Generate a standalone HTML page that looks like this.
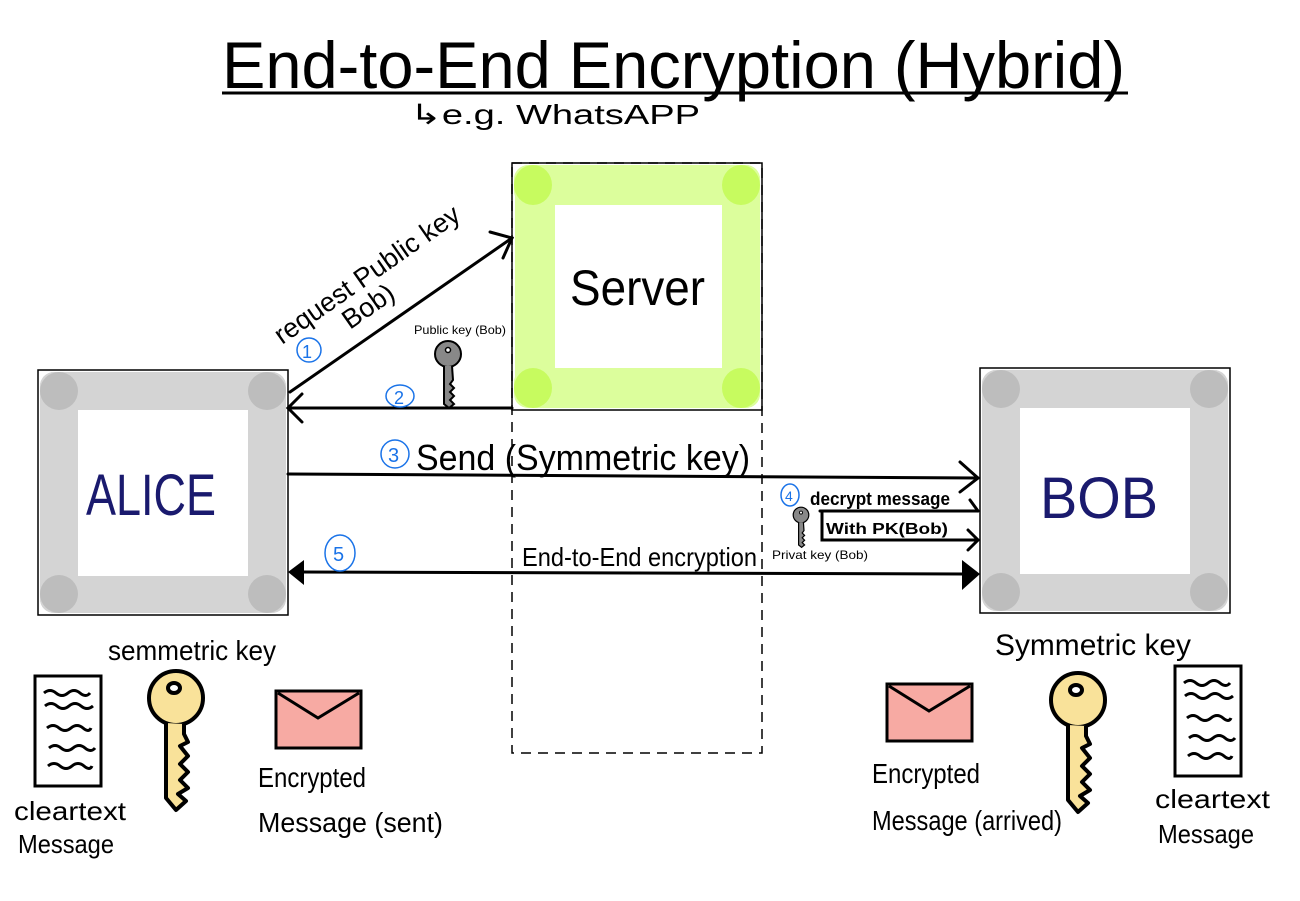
<!DOCTYPE html>
<html><head><meta charset="utf-8"><style>
html,body{margin:0;padding:0;background:#fff;}
svg{display:block;font-family:"Liberation Sans",sans-serif;}
</style></head><body>
<svg width="1300" height="901" viewBox="0 0 1300 901" xmlns="http://www.w3.org/2000/svg">
<defs>
<g id="key">
  <circle cx="0" cy="0" r="27" fill="#f9e29a" stroke="#000" stroke-width="4"/>
  <ellipse cx="-2" cy="-10" rx="6" ry="5" fill="#fff" stroke="#000" stroke-width="4"/>
  <path d="M-10,25 L-10,100 L0,112 L10,103 L2,96 L12,90 L4,82 L12,74 L4,66 L12,58 L4,48 L12,44 L8,36 L8,26" fill="#f9e29a" stroke="#000" stroke-width="4" stroke-linejoin="round"/>
</g>
<g id="doc">
  <rect x="0" y="0" width="66" height="110" fill="#fff" stroke="#000" stroke-width="3"/>
  <path d="M9,17 q6,-5 12,0 t12,0 t12,0 t10,0 M10,30 q6,-5 12,0 t12,0 t12,0 t12,0 M12,52 q6,-5 12,0 t12,0 t12,0 t8,0 M14,72 q6,-5 12,0 t12,0 t12,0 t10,0 M13,90 q6,-5 12,0 t12,0 t12,0 t8,0" fill="none" stroke="#000" stroke-width="3"/>
</g>
<g id="env">
  <rect x="0" y="0" width="85" height="57" fill="#f7aaa3" stroke="#000" stroke-width="3"/>
  <path d="M2,2 L42,27 L83,2" fill="none" stroke="#000" stroke-width="3"/>
</g>
<g id="gkey">
  <circle cx="0" cy="0" r="13" fill="#888" stroke="#000" stroke-width="2"/>
  <circle cx="0" cy="-4" r="2.5" fill="#fff" stroke="#000" stroke-width="1.5"/>
  <path d="M-4,12 L-4,50 L1,54 L6,50 L2,46 L6,42 L2,38 L6,34 L2,30 L5,26 L4,12" fill="#888" stroke="#000" stroke-width="2"/>
</g>
</defs>

<text x="222" y="88" font-size="66" textLength="903" lengthAdjust="spacingAndGlyphs">End-to-End  Encryption (Hybrid)</text>
<line x1="222" y1="93" x2="1128" y2="93" stroke="#000" stroke-width="3"/>
<text x="410" y="124" font-size="28" textLength="290" lengthAdjust="spacingAndGlyphs">↳e.g. WhatsAPP</text>

<rect x="512" y="163" width="250" height="247" fill="#fff" stroke="#000" stroke-width="1.5"/>
<rect x="512" y="163" width="250" height="590" fill="none" stroke="#000" stroke-width="1.5" stroke-dasharray="10,7"/>
<g fill="#dcfe9c">
  <rect x="514" y="165" width="246" height="40" rx="14"/>
  <rect x="514" y="368" width="246" height="40" rx="14"/>
  <rect x="515" y="165" width="40" height="243" rx="14"/>
  <rect x="722" y="165" width="38" height="243" rx="14"/>
</g>
<g fill="#c7fb5f">
  <ellipse cx="533" cy="185" rx="19" ry="20"/><ellipse cx="741" cy="185" rx="19" ry="20"/>
  <ellipse cx="533" cy="388" rx="19" ry="20"/><ellipse cx="741" cy="388" rx="19" ry="20"/>
</g>
<text x="570" y="305" font-size="50" textLength="135" lengthAdjust="spacingAndGlyphs">Server</text>

<rect x="38" y="370" width="250" height="245" fill="#fff" stroke="#000" stroke-width="1.5"/>
<g fill="#d4d4d4">
  <rect x="40" y="372" width="246" height="38" rx="14"/>
  <rect x="40" y="576" width="246" height="37" rx="14"/>
  <rect x="40" y="372" width="38" height="241" rx="14"/>
  <rect x="248" y="372" width="38" height="241" rx="14"/>
</g>
<g fill="#bdbdbd">
  <ellipse cx="59" cy="391" rx="19" ry="19"/><ellipse cx="267" cy="391" rx="19" ry="19"/>
  <ellipse cx="59" cy="594" rx="19" ry="19"/><ellipse cx="267" cy="594" rx="19" ry="19"/>
</g>
<text x="86" y="515" font-size="58" fill="#1a1a6e" textLength="130" lengthAdjust="spacingAndGlyphs">ALICE</text>

<rect x="980" y="368" width="250" height="245" fill="#fff" stroke="#000" stroke-width="1.5"/>
<g fill="#d4d4d4">
  <rect x="982" y="370" width="246" height="38" rx="14"/>
  <rect x="982" y="574" width="246" height="37" rx="14"/>
  <rect x="982" y="370" width="38" height="241" rx="14"/>
  <rect x="1190" y="370" width="38" height="241" rx="14"/>
</g>
<g fill="#bdbdbd">
  <ellipse cx="1001" cy="389" rx="19" ry="19"/><ellipse cx="1209" cy="389" rx="19" ry="19"/>
  <ellipse cx="1001" cy="592" rx="19" ry="19"/><ellipse cx="1209" cy="592" rx="19" ry="19"/>
</g>
<text x="1040" y="518" font-size="58" fill="#1a1a6e" textLength="118" lengthAdjust="spacingAndGlyphs">BOB</text>

<g stroke="#000" stroke-width="3" fill="none" stroke-linecap="round">
  <line x1="290" y1="392" x2="512" y2="238"/>
  <path d="M490,232 L512,238 L503,258"/>
  <line x1="288" y1="408" x2="512" y2="408"/>
  <path d="M302,394 L288,408 L302,422"/>
  <line x1="288" y1="474" x2="978" y2="478"/>
  <path d="M960,462 L978,478 L960,492"/>
  <line x1="820" y1="511" x2="978" y2="511"/>
  <polyline points="822,511 822,540 978,540"/>
  <path d="M970,500 L978,511 M968,530 L978,540 L968,550"/>
  <line x1="300" y1="572" x2="965" y2="574"/>
</g>
<polygon points="288,572 304,560 304,585" fill="#000"/>
<polygon points="980,574 962,560 962,590" fill="#000"/>

<text font-size="27" transform="translate(282,345) rotate(-35)" textLength="220" lengthAdjust="spacingAndGlyphs">request Public key</text>
<text font-size="27" transform="translate(350,330) rotate(-35)">Bob)</text>
<circle cx="309" cy="350" r="12" fill="none" stroke="#1a73e8" stroke-width="1.5"/>
<text x="302" y="358" font-size="18" fill="#1a73e8">1</text>
<ellipse cx="400" cy="396" rx="14" ry="11" fill="none" stroke="#1a73e8" stroke-width="1.5"/>
<text x="394" y="404" font-size="18" fill="#1a73e8">2</text>
<text x="414" y="334" font-size="12" textLength="92" lengthAdjust="spacingAndGlyphs">Public key (Bob)</text>
<use href="#gkey" x="448" y="354"/>

<circle cx="395" cy="454" r="14" fill="none" stroke="#1a73e8" stroke-width="1.5"/>
<text x="388" y="462" font-size="20" fill="#1a73e8">3</text>
<text x="416" y="470" font-size="36" textLength="334" lengthAdjust="spacingAndGlyphs">Send (Symmetric key)</text>

<ellipse cx="790" cy="495" rx="9" ry="11" fill="none" stroke="#1a73e8" stroke-width="1.5"/>
<text x="785" y="501" font-size="14" fill="#1a73e8">4</text>
<text x="810" y="505" font-size="18" font-weight="bold" textLength="140" lengthAdjust="spacingAndGlyphs">decrypt message</text>
<text x="826" y="534" font-size="16" font-weight="bold" textLength="122" lengthAdjust="spacingAndGlyphs">With PK(Bob)</text>
<use href="#gkey" transform="translate(801,515) scale(0.6)"/>
<text x="772" y="559" font-size="12" textLength="96" lengthAdjust="spacingAndGlyphs">Privat key (Bob)</text>

<ellipse cx="340" cy="553" rx="15" ry="18" fill="none" stroke="#1a73e8" stroke-width="1.5"/>
<text x="333" y="561" font-size="20" fill="#1a73e8">5</text>
<text x="522" y="566" font-size="26" textLength="235" lengthAdjust="spacingAndGlyphs">End-to-End encryption</text>

<text x="108" y="660" font-size="28" textLength="168" lengthAdjust="spacingAndGlyphs">semmetric key</text>
<use href="#doc" x="35" y="676"/>
<use href="#key" x="176" y="698"/>
<use href="#env" x="276" y="691"/>
<text x="14" y="820" font-size="26" textLength="112" lengthAdjust="spacingAndGlyphs">cleartext</text>
<text x="18" y="853" font-size="26" textLength="96" lengthAdjust="spacingAndGlyphs">Message</text>
<text x="258" y="787" font-size="28" textLength="108" lengthAdjust="spacingAndGlyphs">Encrypted</text>
<text x="258" y="832" font-size="28" textLength="185" lengthAdjust="spacingAndGlyphs">Message (sent)</text>

<text x="995" y="655" font-size="30" textLength="196" lengthAdjust="spacingAndGlyphs">Symmetric key</text>
<use href="#env" x="887" y="684"/>
<use href="#key" x="1078" y="700"/>
<use href="#doc" x="1175" y="666"/>
<text x="872" y="783" font-size="28" textLength="108" lengthAdjust="spacingAndGlyphs">Encrypted</text>
<text x="872" y="830" font-size="28" textLength="190" lengthAdjust="spacingAndGlyphs">Message (arrived)</text>
<text x="1155" y="808" font-size="26" textLength="115" lengthAdjust="spacingAndGlyphs">cleartext</text>
<text x="1158" y="843" font-size="26" textLength="96" lengthAdjust="spacingAndGlyphs">Message</text>
</svg>
</body></html>
